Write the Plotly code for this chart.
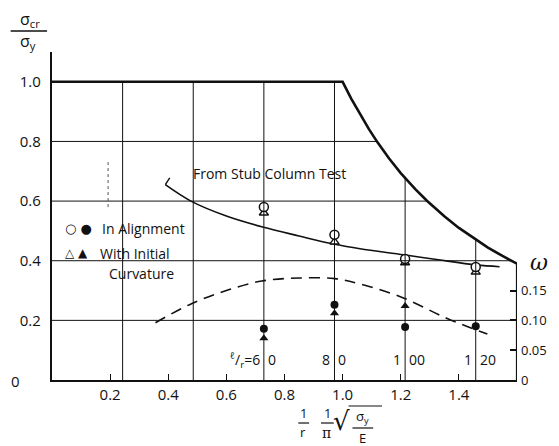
import plotly.graph_objects as go

# ---------------- data ----------------
lr_values = [60, 80, 100, 120]                       # l/r of the tested columns
lam_points = [0.729, 0.972, 1.215, 1.458]            # (1/r)(1/pi)sqrt(sy/E)
sig_align = [0.58, 0.487, 0.406, 0.379]              # open circles  (scr/sy)
sig_curv = [0.56, 0.463, 0.393, 0.362]               # open triangles (scr/sy)
omega_align = [0.086, 0.126, 0.089, 0.090]           # filled circles (omega)
omega_curv = [0.070, 0.112, 0.124, None]             # filled triangles (omega)

stub_lam = [0.39, 0.478, 0.60, 0.725, 0.85, 0.973, 1.06, 1.21, 1.33, 1.46, 1.54]
stub_sig = [0.655, 0.60, 0.55, 0.513, 0.483, 0.455, 0.44, 0.42, 0.403, 0.386, 0.38]
stub_tick_lam = [0.39, 0.405]
stub_tick_sig = [0.655, 0.678]

omega_lam = [0.356, 0.48, 0.60, 0.722, 0.85, 0.973, 1.06, 1.207, 1.356, 1.498]
omega_val = [0.096, 0.128, 0.150, 0.166, 0.171, 0.170, 0.161, 0.138, 0.104, 0.077]

env_lam = [0.0, 1.0, 1.03, 1.06, 1.09, 1.12, 1.16, 1.2, 1.25, 1.29, 1.35, 1.4,
           1.45, 1.5, 1.55, 1.6]
env_sig = [1.0, 1.0, 0.943, 0.89, 0.842, 0.797, 0.743, 0.694, 0.64, 0.601,
           0.549, 0.51, 0.476, 0.444, 0.416, 0.39]

grid_lr = [20, 40, 60, 80, 100, 120]
lam_per_lr = 0.01215
grid_sig = [0.2, 0.4, 0.6, 0.8]
x_ticks = [0.2, 0.4, 0.6, 0.8, 1.0, 1.2, 1.4]
x_ticktext = ["0.2", "0.4", "0.6", "0.8", "1.0", "1.2", "1.4"]
y_ticks = [0.2, 0.4, 0.6, 0.8, 1.0]
y_ticktext = ["0.2", "0.4", "0.6", "0.8", "1.0"]
w_ticks = [0, 0.05, 0.10, 0.15]
w_ticktext = ["0", "0.05", "0.10", "0.15"]

# ---------------- figure ----------------
OFF = 8                      # page body margin of the html page
W, H = 559 - OFF, 446 - OFF
ML, MR, MT, MB = 47 - OFF, 40, 52 - OFF, 66
XMAX, YMAX = 1.6, 1.1
FONT = "Open Sans, DejaVu Sans, sans-serif"
INK = "#111111"


def px_x(px):
    return (px - OFF - ML) / (W - ML - MR)


def px_y(py):
    return (H - MB - (py - OFF)) / (H - MT - MB)


def env_top(lam):
    for i in range(len(env_lam) - 1):
        if env_lam[i] <= lam <= env_lam[i + 1]:
            t = (lam - env_lam[i]) / (env_lam[i + 1] - env_lam[i])
            return env_sig[i] + t * (env_sig[i + 1] - env_sig[i])
    return env_sig[-1]


def env_x(sig):
    for i in range(1, len(env_lam) - 1):
        a, b = env_sig[i], env_sig[i + 1]
        if b <= sig <= a:
            t = (a - sig) / (a - b)
            return env_lam[i] + t * (env_lam[i + 1] - env_lam[i])
    return XMAX


fig = go.Figure()
shapes = []

for lr in grid_lr:
    lam = lr * lam_per_lr
    shapes.append(dict(type="line", xref="x", yref="y", x0=lam, x1=lam, y0=0,
                       y1=env_top(lam), line=dict(color=INK, width=1)))
for s in grid_sig:
    shapes.append(dict(type="line", xref="x", yref="y", x0=0, x1=min(XMAX, env_x(s)),
                       y0=s, y1=s, line=dict(color=INK, width=1)))
shapes.append(dict(type="line", xref="x", yref="y", x0=0.193, x1=0.193, y0=0.58,
                   y1=0.74, line=dict(color="#555", width=1, dash="dot")))
shapes.append(dict(type="line", xref="x", yref="y", x0=XMAX, x1=XMAX, y0=0,
                   y1=env_sig[-1], line=dict(color=INK, width=2.2)))

fig.add_trace(go.Scatter(x=env_lam, y=env_sig, mode="lines",
                         line=dict(color=INK, width=2.6), hoverinfo="skip"))
fig.add_trace(go.Scatter(x=stub_lam, y=stub_sig, mode="lines",
                         line=dict(color=INK, width=1.6, shape="spline"), hoverinfo="skip"))
fig.add_trace(go.Scatter(x=stub_tick_lam, y=stub_tick_sig, mode="lines",
                         line=dict(color=INK, width=1.4), hoverinfo="skip"))
fig.add_trace(go.Scatter(x=omega_lam, y=omega_val, yaxis="y2", mode="lines",
                         line=dict(color=INK, width=1.6, dash="11px,7px", shape="spline"),
                         hoverinfo="skip"))
fig.add_trace(go.Scatter(x=lam_points, y=sig_curv, mode="markers",
                         marker=dict(symbol="triangle-up", size=8, color="white",
                                     line=dict(color=INK, width=1.4))))
fig.add_trace(go.Scatter(x=lam_points, y=sig_align, mode="markers",
                         marker=dict(symbol="circle", size=9, color="white",
                                     line=dict(color=INK, width=1.5))))
fig.add_trace(go.Scatter(x=lam_points, y=omega_curv, yaxis="y2", mode="markers",
                         marker=dict(symbol="triangle-up", size=8, color=INK)))
fig.add_trace(go.Scatter(x=lam_points, y=omega_align, yaxis="y2", mode="markers",
                         marker=dict(symbol="circle", size=8, color=INK)))

ann = []
tf = dict(family=FONT, size=14, color=INK)


def T(px, py, text, font=None, xanchor="center"):
    return dict(x=px_x(px), y=px_y(py), xref="paper", yref="paper", text=text,
                showarrow=False, xanchor=xanchor, yanchor="middle", font=font or tf)


first = True
for lam, lr in zip(lam_points, lr_values):
    s = str(lr)
    left, right = s[:-1], s[-1]
    if lr >= 100:
        left, right = s[:1], s[1:]
    if first:
        left = "<sup>ℓ</sup>/<sub>r</sub>=" + left
        first = False
    ann.append(dict(x=lam, y=0.068, xref="x", yref="y", text=left, showarrow=False,
                    xanchor="right", yanchor="middle", xshift=-2, font=tf))
    ann.append(dict(x=lam, y=0.068, xref="x", yref="y", text=right, showarrow=False,
                    xanchor="left", yanchor="middle", xshift=2, font=tf))

f13 = dict(family=FONT, size=13, color=INK)
ann += [
    T(268, 173, "From Stub Column Test"),
    T(58, 228, "○ ●", dict(family="DejaVu Sans", size=13, color=INK), "left"),
    T(96, 228, "In Alignment", xanchor="left"),
    T(58, 253, "△ ▲", dict(family="DejaVu Sans", size=12, color=INK), "left"),
    T(94, 253, "With Initial", xanchor="left"),
    T(103, 273, "Curvature", xanchor="left"),
    T(541, 262, "<i>ω</i>", dict(family="DejaVu Serif", size=22, color=INK)),
    T(10, 381, "0", dict(family=FONT, size=15, color=INK)),
    T(25, 19, "σ<sub>cr</sub>", dict(family=FONT, size=16, color=INK)),
    T(23, 42, "σ<sub>y</sub>", dict(family=FONT, size=16, color=INK)),
    T(302, 413, "1", f13),
    T(302, 432, "r", f13),
    T(327, 413, "1", f13),
    T(326, 433, "π", dict(family="DejaVu Serif", size=14, color=INK)),
    T(341, 421, "√", dict(family="DejaVu Sans", size=26, color=INK)),
    T(362, 417, "σ<sub>y</sub>", f13),
    T(362, 438, "E", f13),
]

for (xa, xb, yy, w) in [(5, 42, 31, 1.5), (297, 308, 423, 1.2), (320, 333, 423, 1.2),
                        (352, 373, 428, 1.2), (348, 382, 406, 1.2)]:
    shapes.append(dict(type="line", xref="paper", yref="paper", x0=px_x(xa), x1=px_x(xb),
                       y0=px_y(yy), y1=px_y(yy), line=dict(color=INK, width=w)))

fig.update_layout(
    width=W, height=H,
    margin=dict(l=ML, r=MR, t=MT, b=MB),
    paper_bgcolor="white", plot_bgcolor="white",
    showlegend=False,
    shapes=shapes, annotations=ann,
    xaxis=dict(range=[0, XMAX], showgrid=False, zeroline=False, showline=True,
               linecolor=INK, linewidth=2.2, ticks="inside", ticklen=6, tickwidth=1.4,
               tickcolor=INK, tickvals=x_ticks, ticktext=x_ticktext,
               tickfont=dict(family=FONT, size=15, color=INK)),
    yaxis=dict(range=[0, YMAX], showgrid=False, zeroline=False, showline=True,
               linecolor=INK, linewidth=2.2, ticks="", tickvals=y_ticks, ticktext=y_ticktext,
               ticklabelstandoff=6, tickfont=dict(family=FONT, size=15, color=INK)),
    yaxis2=dict(range=[0, YMAX / 2], overlaying="y", side="right", showgrid=False,
                zeroline=False, showline=False, ticks="inside", ticklen=7, tickwidth=1.6,
                tickcolor=INK, tickvals=w_ticks, ticktext=w_ticktext, ticklabelstandoff=3,
                tickfont=dict(family=FONT, size=13, color=INK)),
)

fig.write_html("out.html")
